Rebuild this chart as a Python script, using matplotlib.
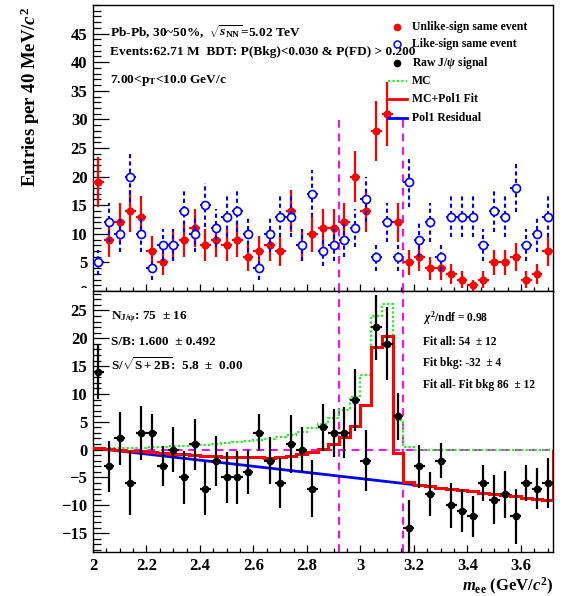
import numpy as np
import matplotlib.pyplot as plt
from matplotlib.patches import Rectangle
from matplotlib.ticker import MultipleLocator, FuncFormatter

plt.rcParams['font.family'] = 'Liberation Serif'
plt.rcParams['font.weight'] = 'bold'
plt.rcParams['mathtext.fontset'] = 'custom'
plt.rcParams['mathtext.rm'] = 'Liberation Serif:bold'
plt.rcParams['mathtext.it'] = 'Liberation Serif:italic:bold'
plt.rcParams['mathtext.bf'] = 'Liberation Serif:bold'

# 40 MeV/c^2 bins, 2.00 - 3.72 GeV/c^2
bin_edges = np.round(np.arange(2.0, 3.7201, 0.04), 2)
bin_centers = 0.5 * (bin_edges[:-1] + bin_edges[1:])

unlike_sign = [19, 9, 12, 14, 13, 7, 5, 8, 9, 11, 8, 9, 8, 9, 6, 7, 8, 7, 14, 8, 10, 11, 11,
               12, 20, 14, 28, 31, 12, 5, 6, 4, 4, 3, 2, 1, 2, 5, 5, 6, 2, 3, 7]
like_sign = [5, 12, 10, 20, 10, 4, 8, 8, 14, 10, 15, 11, 13, 14, 10, 4, 10, 13, 13, 8, 17, 7, 8,
             9, 11, 16, 6, 12, 6, 19, 9, 12, 6, 13, 13, 13, 8, 14, 13, 18, 8, 10, 13]
# scaled MC J/psi line shape
mc_template = [0.15, 0.2, 0.25, 0.3, 0.35, 0.4, 0.5, 0.6, 0.7, 0.8, 0.9, 1.0, 1.15, 1.3, 1.5,
               1.7, 1.9, 2.3, 2.7, 3.2, 3.8, 4.6, 5.6, 7.1, 9.4, 13.4, 24.0, 26.2, 5.4, 0.4,
               0, 0, 0, 0, 0, 0, 0, 0, 0, 0, 0, 0, 0]
# pol1 residual: p0 + p1 * (m - 2)
pol1_pars = [0.3, -5.5]
mass_window = [2.92, 3.16]

unlike = np.array(unlike_sign, dtype=float)
like = np.array(like_sign, dtype=float)
raw_signal = unlike - like
raw_err = np.sqrt(unlike + like)


def pol1(m):
    return pol1_pars[0] + pol1_pars[1] * (np.asarray(m) - 2.0)


fit_total = pol1(bin_centers) + np.array(mc_template)

W, H = 567, 596
fig = plt.figure(figsize=(W / 100, H / 100), dpi=100)
ax1 = fig.add_axes([93 / W, 1 - 291 / H, 460 / W, 286 / H])
ax2 = fig.add_axes([93 / W, 1 - 552 / H, 460 / W, 261 / H])
ax1.set_zorder(0)
ax2.set_zorder(2)
# bottom pad hides the lower edge of the upper pad labels
fig.patches.append(Rectangle((0, 0), 93 / W, 1 - 288 / H, transform=fig.transFigure,
                             facecolor='white', edgecolor='none', zorder=1))

for ax in (ax1, ax2):
    ax.set_xlim(2.0, 3.72)
    ax.xaxis.set_major_locator(MultipleLocator(0.2))
    ax.xaxis.set_minor_locator(MultipleLocator(0.05))
    ax.yaxis.set_minor_locator(MultipleLocator(1))
    ax.tick_params(axis='y', which='major', direction='in', length=11.5, width=0.9,
                   labelsize=12, pad=4, right=False)
    ax.tick_params(axis='y', which='minor', direction='in', length=5.5, width=0.9, right=False)
    ax.tick_params(axis='x', which='major', direction='in', length=5, width=0.9,
                   labelsize=12, pad=4, top=False)
    ax.tick_params(axis='x', which='minor', direction='in', length=2.7, width=0.9, top=False)
    for s in ax.spines.values():
        s.set_linewidth(1.0)

# ---- upper pad: same-event pairs ----
ax1.set_ylim(0, 50)
ax1.set_yticks(np.arange(0, 46, 5))
ax1.tick_params(axis='x', labelbottom=False)
ax1.errorbar(bin_centers, unlike, yerr=np.sqrt(unlike), xerr=0.02, fmt='o', color='red',
             ms=4.8, elinewidth=1.6, capsize=0, zorder=3)
eb = ax1.errorbar(bin_centers, like, yerr=np.sqrt(like), xerr=0.02, fmt='o', color='blue',
                  mfc='white', mec='blue', mew=1.2, ms=5.8, elinewidth=1.5, capsize=0, zorder=4)
for lc in eb[2]:
    lc.set_linestyle((0, (2, 1.5)))
for m in mass_window:
    ax1.plot([m, m], [0, 30], color='magenta', ls=(0, (4, 3)), lw=1.4, zorder=2)

tx = (110 - 93) / 460
ax1.text(tx, 1 - (32 - 5) / 286, r'Pb-Pb, 30~50%,  $\sqrt{s_{\rm NN}}$=5.02 TeV',
         transform=ax1.transAxes, fontsize=9.6, va='center')
ax1.text(tx, 1 - (52 - 5) / 286, 'Events:62.71 M  BDT: P(Bkg)<0.030 & P(FD) > 0.200',
         transform=ax1.transAxes, fontsize=9.6, va='center')
ax1.text(tx, 1 - (80 - 5) / 286, r'7.00<p$_{\rm T}$<10.0 GeV/c',
         transform=ax1.transAxes, fontsize=9.6, va='center')


# legend entries
def to_ax(px, py):
    return (px - 93) / 460, 1 - (py - 5) / 286


legend_rows = [26.7, 44.3, 63.3, 81, 99.3, 117.7]
legend_labels = ['Unlike-sign same event', 'Like-sign same event', r'Raw J/$\psi$ signal',
                 'MC', 'MC+Pol1 Fit', 'Pol1 Residual']
mx, _ = to_ax(397, 0)
lx0, _ = to_ax(388, 0)
lx1, _ = to_ax(407, 0)
tx_leg, _ = to_ax(412, 0)
ys = [to_ax(0, r)[1] for r in legend_rows]
ax1.plot(mx, ys[0], 'o', color='red', ms=4.5, transform=ax1.transAxes, clip_on=False, zorder=6)
ax1.plot(mx, ys[1], 'o', mfc='none', mec='blue', mew=1.1, ms=5, transform=ax1.transAxes,
         clip_on=False, zorder=6)
ax1.plot(mx, ys[2], 'o', color='black', ms=4.5, transform=ax1.transAxes, clip_on=False, zorder=6)
ax1.plot([lx0, lx1], [ys[3]] * 2, color='#22ee22', ls=(0, (1, 1)), lw=1.6,
         transform=ax1.transAxes, zorder=6)
ax1.plot([lx0, lx1], [ys[4]] * 2, color='red', lw=2, transform=ax1.transAxes, zorder=6)
ax1.plot([lx0, lx1], [ys[5]] * 2, color='blue', lw=2, transform=ax1.transAxes, zorder=6)
for y, lab in zip(ys, legend_labels):
    ax1.text(tx_leg, y, lab, transform=ax1.transAxes, fontsize=8.5, va='center', zorder=6)

# ---- lower pad: raw signal and fit ----
ax2.set_ylim(-18.4, 28.5)
ax2.set_yticks(np.arange(-15, 26, 5))
ax2.xaxis.set_major_formatter(FuncFormatter(lambda v, p: f'{v:g}'))
ax2.axhline(0, color='magenta', ls=(0, (4, 3)), lw=1.4, zorder=1)
for m in mass_window:
    ax2.axvline(m, color='magenta', ls=(0, (4, 3)), lw=1.4, zorder=1)
ax2.plot([2.0, 3.2], pol1([2.0, 3.2]), color='blue', lw=2.0, zorder=2)
ax2.stairs(mc_template, bin_edges, color='#22ee22', ls=(0, (1, 1)), lw=1.6, zorder=2.5)
ax2.stairs(fit_total, bin_edges, color='red', lw=2.2, zorder=3)
ax2.errorbar(bin_centers, raw_signal, yerr=raw_err, xerr=0.02, fmt='o', color='black',
             ms=4.5, elinewidth=1.6, capsize=0, zorder=4)


def to_ax2(px, py):
    return (px - 93) / 460, 1 - (py - 291) / 261


for (px, py), s, fs in [((111, 317), r'N$_{\rm J/\psi}$: 75  ± 16', 9.5),
                        ((111, 342), 'S/B: 1.600  ± 0.492', 9.5),
                        ((111, 365), r'S/$\sqrt{\rm S+2B}$:  5.8  ±  0.00', 9.5),
                        ((423, 318), r'$\chi^{2}$/ndf = 0.98', 8.3),
                        ((423, 342), 'Fit all: 54  ± 12', 8.3),
                        ((423, 363), 'Fit bkg: -32  ± 4', 8.3),
                        ((423, 385), 'Fit all- Fit bkg 86  ± 12', 8.3)]:
    x, y = to_ax2(px, py)
    ax2.text(x, y, s, transform=ax2.transAxes, fontsize=fs, va='center', zorder=6)

fig.text(30 / W, 1 - 97 / H, r'Entries per 40 MeV/$c^{2}$', rotation=90, fontsize=13.5,
         ha='center', va='center')
fig.text(553 / W, 1 - 586 / H, r'$m_{\rm ee}$ (GeV/$c^{2}$)', fontsize=12,
         ha='right', va='center')

fig.savefig('out.png', dpi=100)
